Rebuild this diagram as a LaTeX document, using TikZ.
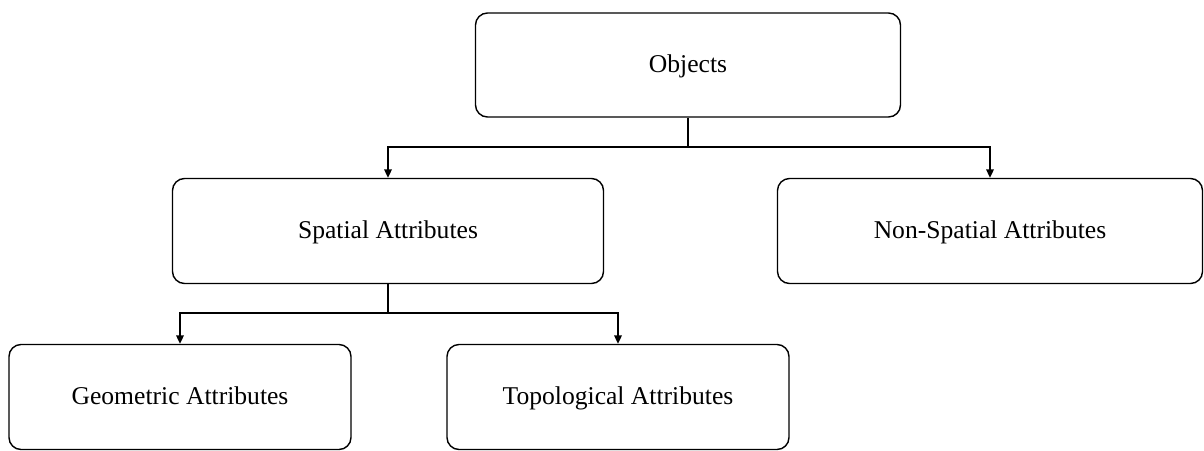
\documentclass[tikz,border=0pt]{standalone}
\usepackage{fontspec}
\setmainfont{Liberation Serif}
\usepackage{tikz}
\usetikzlibrary{positioning,calc,arrows.meta}

\tikzset{
	attrbox/.style={draw, rounded corners=6pt, line width=0.7pt, inner sep=0pt,
		minimum height=52.5pt, text height=1.65ex, text depth=0pt,
		font=\fontsize{12.8}{15}\selectfont},
	link/.style={line width=0.7pt},
	linkarrow/.style={line width=0.7pt, -{Triangle[length=4.2pt,width=3.8pt]}}
}

\begin{document}
\begin{tikzpicture}[x=0.5pt,y=-0.5pt]
			\useasboundingbox (0,0) rectangle (1204,450);
			
			% Hộp gốc
			\node[attrbox, minimum width=212.5pt, minimum height=52pt] (objects) at (688,65) {Objects};
			
			% Tầng hai
			\node[attrbox, minimum width=215.5pt] (spatial) at (388,231) {Spatial Attributes};
			\node[attrbox, minimum width=212.5pt] (nonspatial) at (990,231) {Non-Spatial Attributes};
			
			% Tầng ba
			\node[attrbox, minimum width=171pt] (geometric) at (180,397) {Geometric Attributes};
			\node[attrbox, minimum width=171pt] (topological) at (618,397) {Topological Attributes};
			
			% Điểm rẽ nhánh
			\coordinate (objsplit) at (objects.south |- 0,147);
			\coordinate (spasplit) at (spatial.south |- 0,313);
			
			% Đường nối
			\draw[link] (objects.south) -- (objsplit);
			\draw[linkarrow] (objsplit) -| (spatial.north);
			\draw[linkarrow] (objsplit) -| (nonspatial.north);
			\draw[link] (spatial.south) -- (spasplit);
			\draw[linkarrow] (spasplit) -| (geometric.north);
			\draw[linkarrow] (spasplit) -| (topological.north);
		\end{tikzpicture}
\end{document}
